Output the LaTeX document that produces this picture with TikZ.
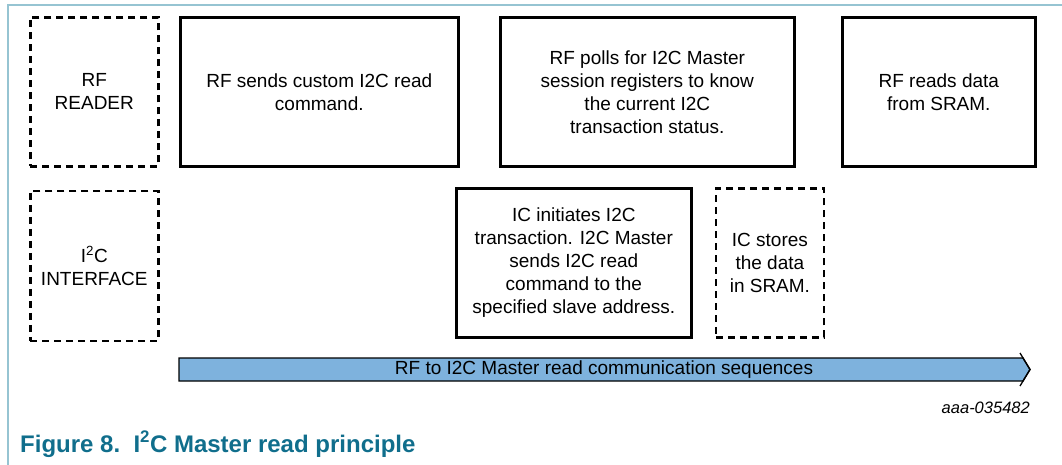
\documentclass[tikz,border=0pt]{standalone}
\usepackage{fontspec}
\setmainfont{Liberation Sans}
\usetikzlibrary{positioning}
\definecolor{framecol}{RGB}{150,196,210}
\definecolor{seqfill}{RGB}{126,178,221}
\definecolor{captioncol}{RGB}{16,110,140}

\begin{document}
\begin{tikzpicture}[x=1pt, y=-1pt]
  \tikzset{
    every node/.style={font=\fontsize{19}{23}\selectfont, align=center, inner sep=0pt},
    stepbox/.style={draw, line width=2.6pt, anchor=north west, minimum height=149pt},
    dashbox/.style={stepbox, dash pattern=on 7pt off 5pt}
  }
  \useasboundingbox (0,0) rectangle (1062,465);
  \draw[framecol, line width=1.5pt] (8,465) -- (8,5) -- (1062,5);

  % top row: RF side
  \node[dashbox, minimum width=128pt] (reader) at (29,16) {RF\\READER};
  \node[stepbox, minimum width=278pt] (sendcmd) at (179,16) {RF sends custom I2C read\\command.};
  \node[stepbox, minimum width=294pt] (pollstat) at (499,16) {RF polls for I2C Master\\session registers to know\\the current I2C\\transaction status.};
  \node[stepbox, minimum width=193pt] (readsram) at (841,16) {RF reads data\\from SRAM.};

  % bottom row: I2C side
  \node[dashbox, minimum width=128pt, minimum height=150pt, below=22pt of reader] (iface) {I\textsuperscript{2}C\\INTERFACE};
  \node[stepbox, minimum width=235pt] (initxfer) at (455,187) {IC initiates I2C\\transaction. I2C Master\\sends I2C read\\command to the\\specified slave address.};
  \node[dashbox, minimum width=108pt, right=22pt of initxfer] (storesram) {IC stores\\the data\\in SRAM.};

  % sequence arrow
  \filldraw[fill=seqfill, draw=black, line width=1.3pt]
    (179,358) -- (1023,358) -- (1030,369.5) -- (1023,381) -- (179,381) -- cycle;
  \draw[line width=1.3pt] (1020,353) -- (1030,369.5) -- (1020,386);
  \node[font=\fontsize{19}{22}\selectfont] (seqlabel) at (604,369.5) {RF to I2C Master read communication sequences};

  \node[font=\fontsize{16.5}{18}\selectfont\itshape, anchor=base east] (figid) at (1030,413) {aaa-035482};
  \node[font=\fontsize{24}{28}\selectfont\bfseries, text=captioncol, anchor=base west] (caption) at (20,452) {Figure 8.\ \ I\textsuperscript{2}C Master read principle};
\end{tikzpicture}
\end{document}
